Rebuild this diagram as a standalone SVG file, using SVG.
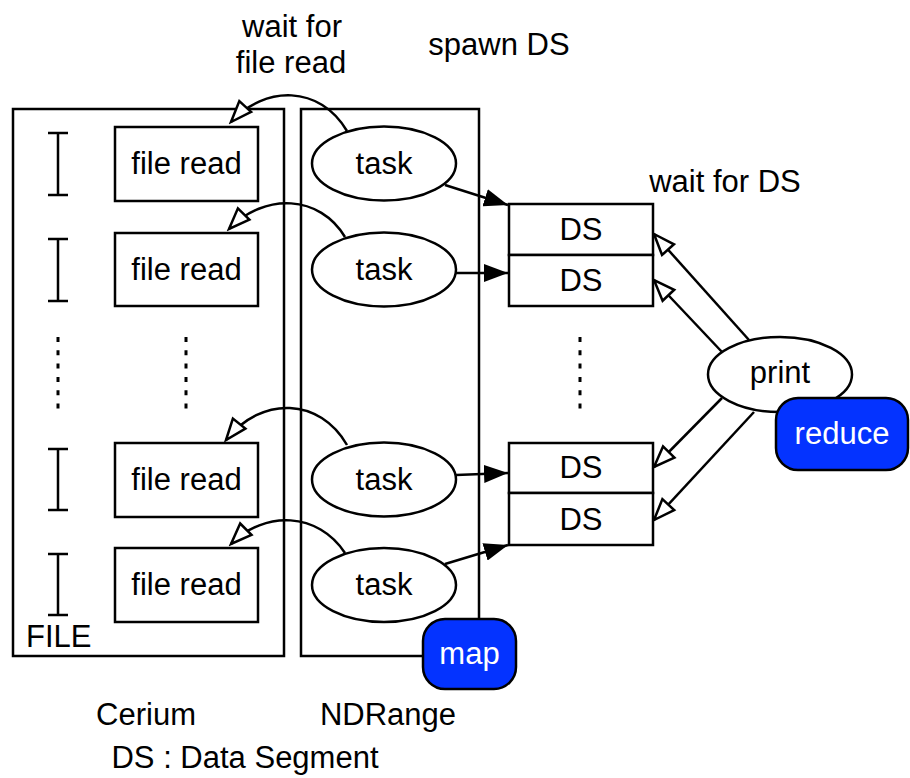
<svg xmlns="http://www.w3.org/2000/svg" width="910" height="778" viewBox="0 0 910 778">
<style>
text{font-family:"Liberation Sans",Arial,Helvetica,sans-serif;font-size:31px;fill:#000}
.c{text-anchor:middle}
.w{fill:#fff}
.box{fill:#fff;stroke:#000;stroke-width:2.5}
.frame{fill:none;stroke:#000;stroke-width:2.5}
.blue{fill:#0433ff;stroke:#000;stroke-width:2.5}
.ln{fill:none;stroke:#000;stroke-width:2.5}
.dots{fill:none;stroke:#000;stroke-width:3;stroke-dasharray:5 8.3}
</style>
<defs>
<marker id="fill" markerUnits="userSpaceOnUse" markerWidth="24" markerHeight="18" refX="24" refY="9" orient="auto" viewBox="0 0 24 18">
<path d="M0,0 L24,9 L0,18 z" fill="#000"/>
</marker>
<marker id="open" markerUnits="userSpaceOnUse" markerWidth="26" markerHeight="22" refX="23" refY="11" orient="auto" viewBox="0 0 26 22">
<path d="M2,3 L23,11 L2,19 z" fill="#fff" stroke="#000" stroke-width="2.5"/>
</marker>
</defs>

<g id="cerium">
<rect class="frame" x="13" y="109" width="271" height="547"/>
<text x="26" y="647">FILE</text>
</g>
<g id="ndrange">
<rect class="frame" x="301" y="109" width="178" height="547"/>
</g>

<g id="ibeams" class="ln">
<path d="M58,133 V195 M48,133 H68 M48,195 H68"/>
<path d="M58,239 V301 M48,239 H68 M48,301 H68"/>
<path d="M58,449 V510 M48,449 H68 M48,510 H68"/>
<path d="M58,554 V615 M48,554 H68 M48,615 H68"/>
</g>
<g id="ellipsis-dots">
<path class="dots" d="M58,337 V410"/>
<path class="dots" d="M186,337 V410"/>
<path class="dots" d="M580,337 V410"/>
</g>

<g id="fileread1"><rect class="box" x="115" y="127" width="143" height="74"/><text class="c" x="186.5" y="174">file read</text></g>
<g id="fileread2"><rect class="box" x="115" y="233" width="143" height="73"/><text class="c" x="186.5" y="280">file read</text></g>
<g id="fileread3"><rect class="box" x="115" y="443" width="143" height="74"/><text class="c" x="186.5" y="490">file read</text></g>
<g id="fileread4"><rect class="box" x="115" y="548" width="143" height="74"/><text class="c" x="186.5" y="595">file read</text></g>

<g id="task1"><ellipse class="box" cx="384" cy="163.5" rx="72" ry="37"/><text class="c" x="384" y="174">task</text></g>
<g id="task2"><ellipse class="box" cx="384" cy="269.5" rx="72" ry="37"/><text class="c" x="384" y="280">task</text></g>
<g id="task3"><ellipse class="box" cx="384" cy="479.5" rx="72" ry="37"/><text class="c" x="384" y="490">task</text></g>
<g id="task4"><ellipse class="box" cx="384" cy="585" rx="72" ry="37"/><text class="c" x="384" y="595">task</text></g>

<g id="ds1"><rect class="box" x="509" y="204" width="144" height="51"/><text class="c" x="581" y="240">DS</text></g>
<g id="ds2"><rect class="box" x="509" y="255" width="144" height="51"/><text class="c" x="581" y="291">DS</text></g>
<g id="ds3"><rect class="box" x="509" y="443" width="144" height="50"/><text class="c" x="581" y="478">DS</text></g>
<g id="ds4"><rect class="box" x="509" y="493" width="144" height="52"/><text class="c" x="581" y="530">DS</text></g>

<g id="connectors">
<path class="ln" marker-end="url(#fill)" d="M445,185 L508,205"/>
<path class="ln" marker-end="url(#fill)" d="M456,273 L508,273"/>
<path class="ln" marker-end="url(#fill)" d="M456,475 L508,473"/>
<path class="ln" marker-end="url(#fill)" d="M445,564 L508,545"/>
<path class="ln" marker-end="url(#open)" d="M347,131 C320,85 265,85 231,122"/>
<path class="ln" marker-end="url(#open)" d="M345,237 C320,195 265,192 229,229"/>
<path class="ln" marker-end="url(#open)" d="M347,445 C320,398 262,395 226,440"/>
<path class="ln" marker-end="url(#open)" d="M345,553 C318,512 265,510 231,544"/>
<path class="ln" marker-end="url(#open)" d="M749,340 L654,234"/>
<path class="ln" marker-end="url(#open)" d="M722,352 L654,280"/>
<path class="ln" marker-end="url(#open)" d="M722,398 L654,467"/>
<path class="ln" marker-end="url(#open)" d="M754,412 L654,520"/>
</g>

<g id="print"><ellipse class="box" cx="780" cy="374.5" rx="72" ry="37.5"/><text class="c" x="780" y="383">print</text></g>
<g id="reduce"><rect class="blue" x="776" y="398" width="132" height="72" rx="22"/><text class="c w" x="842" y="444">reduce</text></g>
<g id="map"><rect class="blue" x="423" y="619" width="93" height="70" rx="22"/><text class="c w" x="469.5" y="664">map</text></g>

<g id="labels">
<text class="c" x="292" y="37">wait for</text>
<text class="c" x="291" y="73">file read</text>
<text class="c" x="499" y="55">spawn DS</text>
<text class="c" x="725" y="192">wait for DS</text>
<text class="c" x="146" y="725">Cerium</text>
<text class="c" x="388" y="725">NDRange</text>
<text class="c" x="245" y="768">DS : Data Segment</text>
</g>
</svg>
